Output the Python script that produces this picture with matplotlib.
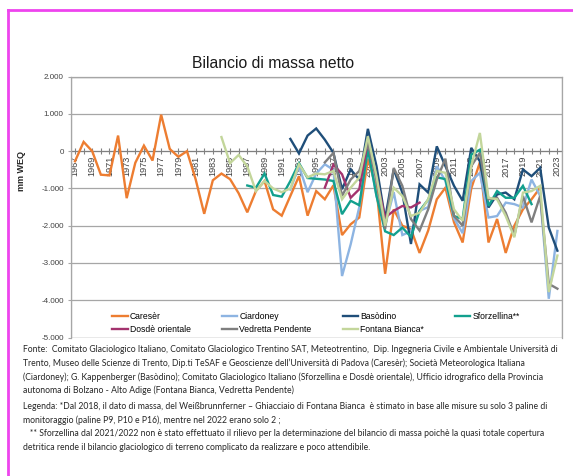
import numpy as np
import matplotlib
matplotlib.use("Agg")
import matplotlib.pyplot as plt
from matplotlib.lines import Line2D
from matplotlib.patches import Rectangle

# === DATI (mm WEQ) ===
anni = list(range(1967, 2024))

careser_start = 1967
careser = [-270, 250, 0, -630, -650, 420, -1260, -310, 150, -250,
           980, 60, -150, 0, -750, -1680, -780, -600, -750, -1130,
           -1640, -1070, -800, -1560, -1730, -1200, -670, -1730, -1070, -1290,
           -915, -2250, -1960, -1780, -200, -1000, -3290, -1560, -2000, -2090,
           -2730, -2130, -1290, -980, -1910, -2450, -1000, -300, -2450, -1820,
           -2730, -2000, -1560, -1290, -980]

ciardoney_start = 1992
ciardoney = [-1030, -400, -1100, -600, -350, -500, -3350, -2500, -1500, 100,
             -1200, -2000, -1100, -2250, -2150, -1600, -1500, -400, -800, -1800,
             -2200, -800, -580, -1780, -1740, -1380, -1420, -1510, -760, -1200,
             -3960, -2140]

basodino_start = 1992
basodino = [330, -60, 420, 610, 310, -45, -1020, -490, -760, 600,
            -400, -1820, -490, -1110, -2490, -890, -1110, 130, -400, -930,
            -1330, 90, -270, -1510, -1160, -1110, -1290, -490, -670, -445,
            -2050, -2670]

sforzellina_start = 1987
sforzellina = [-920, -980, -600, -1175, -1220, -800, -320, -720, -740, -760,
               -800, -1690, -1330, -1450, 50, -1200, -2150, -2250, -2050, -2300,
               -1600, -1300, -700, -750, -1740, -1820, -90, 40, -1470, -1070,
               -1250, -1250, -930, -1420]

dosde_start = 1996
dosde = [-980, -360, -620, -1250, -1020, 270, -750, -1780, -1600, -1470,
         -1510, -1380]

pendente_start = 1996
pendente = [-300, -45, -1200, -760, -530, 220, -760, -2090, -450, -930,
            -1820, -2130, -1560, -760, -200, -1740, -2000, -400, -45, -1290,
            -1250, -1650, -2270, -1200, -1910, -1200, -3560, -3690]

fontana_start = 1984
fontana = [380, -320, -100, -410, -1070, -800, -1000, -1100, -1000, -350,
           -700, -600, -620, -530, -1290, -980, -710, 400, -670, -2000,
           -980, -1200, -1740, -1650, -1290, -530, -580, -1560, -1870, -400,
           490, -1250, -1290, -1740, -2310, -1110, -1070, -930, -3780, -2800]

serie = [
    ("Caresèr", careser_start, careser, "#ED7D31"),
    ("Ciardoney", ciardoney_start, ciardoney, "#8DB4E2"),
    ("Basòdino", basodino_start, basodino, "#1F4E79"),
    ("Sforzellina**", sforzellina_start, sforzellina, "#12A08E"),
    ("Dosdè orientale", dosde_start, dosde, "#A3336E"),
    ("Vedretta Pendente", pendente_start, pendente, "#7F7F7F"),
    ("Fontana Bianca*", fontana_start, fontana, "#C3D69B"),
]

y_ticks = list(range(-5000, 2001, 1000))

note = [
    "Fonte:  Comitato Glaciologico Italiano, Comitato Glaciologico Trentino SAT, Meteotrentino,  Dip. Ingegneria Civile e Ambientale Università di",
    "Trento, Museo delle Scienze di Trento, Dip.ti TeSAF e Geoscienze dell’Università di Padova (Caresèr); Società Meteorologica Italiana",
    "(Ciardoney); G. Kappenberger (Basòdino); Comitato Glaciologico Italiano (Sforzellina e Dosdè orientale), Ufficio idrografico della Provincia",
    "autonoma di Bolzano - Alto Adige (Fontana Bianca, Vedretta Pendente)",
]
legenda = [
    "Legenda: *Dal 2018, il dato di massa, del Weißbrunnferner – Ghiacciaio di Fontana Bianca  è stimato in base alle misure su solo 3 paline di",
    "monitoraggio (paline P9, P10 e P16), mentre nel 2022 erano solo 2 ;",
    "   ** Sforzellina dal 2021/2022 non è stato effettuato il rilievo per la determinazione del bilancio di massa poichè la quasi totale copertura",
    "detritica rende il bilancio glaciologico di terreno complicato da realizzare e poco attendibile.",
]

# === GRAFICO ===
plt.rcParams["font.family"] = ["Liberation Sans", "DejaVu Sans"]
W, H = 573, 476
fig = plt.figure(figsize=(W / 100, H / 100), dpi=100)
ax = fig.add_axes([70.7 / W, 1 - 337.5 / H, 491 / W, 260.8 / H])

linee = {}
for nome, start, valori, colore in serie:
    x = np.arange(start, start + len(valori))
    linee[nome], = ax.plot(x, valori, color=colore, linewidth=1.7, label=nome,
                           solid_joinstyle="miter", zorder=3)

ax.set_xlim(1966.5, 2023.5)
ax.set_ylim(-5000, 2000)

# asse valori
ax.set_yticks(y_ticks)
ax.set_yticklabels([f"{v:,}".replace(",", ".") for v in y_ticks])
ax.yaxis.grid(True, color="#A6A6A6", linewidth=0.9)
ax.set_axisbelow(True)
ax.tick_params(axis="y", length=2.5, width=0.8, color="#A6A6A6",
               labelsize=5.8, labelcolor="#404040", pad=2.5)

# asse categorie a quota zero
ax.spines["bottom"].set_position(("data", 0))
ax.spines["bottom"].set_color("#808080")
ax.spines["bottom"].set_zorder(2)
ax.set_xticks(anni)
ax.set_xticklabels([str(a) if a % 2 == 1 else "" for a in anni])
ax.tick_params(axis="x", direction="inout", length=5, width=0.8, color="#808080",
               labelsize=6.6, labelcolor="#404040", rotation=90, pad=1)
for s in ["top", "left", "right"]:
    ax.spines[s].set_color("#A6A6A6")
    ax.spines[s].set_linewidth(0.9)
ax.add_patch(Rectangle((0, 0), 1, 1, transform=ax.transAxes, fill=False,
                       edgecolor="#A6A6A6", linewidth=0.9, zorder=1))

# legenda: ordine per righe (matplotlib riempie per colonne)
ordine = ["Caresèr", "Dosdè orientale", "Ciardoney", "Vedretta Pendente",
          "Basòdino", "Fontana Bianca*", "Sforzellina**"]
ax.legend([linee[n] for n in ordine], ordine,
          loc="center left", bbox_to_anchor=((112 - 70.7) / 491, (337.5 - 323) / 260.8),
          ncol=4, frameon=False, fontsize=6.2, handlelength=1.8, handletextpad=0.25,
          columnspacing=3.6, labelspacing=0.4, borderpad=0, borderaxespad=0)

fig.text(273 / W, 1 - 63 / H, "Bilancio di massa netto", fontsize=11.3,
         ha="center", va="center", color="#1A1A1A")
fig.text(22 / W, 1 - 171 / H, "mm WEQ", rotation=90, fontsize=6.5,
         fontweight="bold", ha="center", va="center", color="#262626")

# note a pie' di grafico
for i, riga in enumerate(note):
    fig.text(23 / W, 1 - (349.6 + 13.6 * i) / H, riga, fontsize=6.2,
             family=["Lato", "DejaVu Sans"], ha="left", va="center", color="#262626")
for i, riga in enumerate(legenda):
    fig.text(23 / W, 1 - (406.5 + 13.6 * i) / H, riga, fontsize=6.2,
             family=["Lato", "DejaVu Sans"], ha="left", va="center", color="#262626")

# cornice magenta
fig.add_artist(Line2D([8 / W, 1], [1 - 10 / H, 1 - 10 / H], transform=fig.transFigure,
                      color="#EE44EE", linewidth=2))
fig.add_artist(Line2D([8 / W, 8 / W], [0, 1 - 10 / H], transform=fig.transFigure,
                      color="#EE44EE", linewidth=2))

fig.savefig("out.png", dpi=100)
